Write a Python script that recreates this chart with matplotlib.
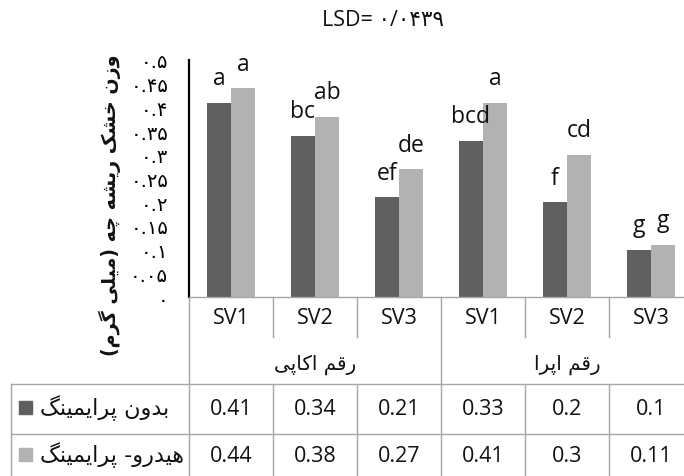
import matplotlib
matplotlib.use("Agg")
import matplotlib.pyplot as plt
import matplotlib.transforms as mtransforms
from matplotlib.patches import Rectangle

# ---------------- data ----------------
categories = ["SV1", "SV2", "SV3", "SV1", "SV2", "SV3"]
groups = ["رقم اکاپی", "رقم اپرا"]
series_names = ["بدون پرایمینگ", "هیدرو- پرایمینگ"]
no_priming = [0.41, 0.34, 0.21, 0.33, 0.2, 0.1]
hydro_priming = [0.44, 0.38, 0.27, 0.41, 0.3, 0.11]
letters_no = ["a", "bc", "ef", "bcd", "f", "g"]
letters_hydro = ["a", "ab", "de", "a", "cd", "g"]
yticks = [0, 0.05, 0.1, 0.15, 0.2, 0.25, 0.3, 0.35, 0.4, 0.45, 0.5]
ytick_labels = ["۰", "۰.۰۵", "۰.۱", "۰.۱۵", "۰.۲", "۰.۲۵", "۰.۳", "۰.۳۵", "۰.۴", "۰.۴۵", "۰.۵"]
ylabel = "وزن خشک ریشه چه (میلی گرم)"
title = "LSD= ۰/۰۴۳۹"

# ---------------- minimal Persian shaping ----------------
FORMS = {
    '\u0627': ('\uFE8D', '\uFE8E', None, None),
    '\u0628': ('\uFE8F', '\uFE90', '\uFE91', '\uFE92'),
    '\u067E': ('\uFB56', '\uFB57', '\uFB58', '\uFB59'),
    '\u062F': ('\uFEA9', '\uFEAA', None, None),
    '\u0631': ('\uFEAD', '\uFEAE', None, None),
    '\u0632': ('\uFEAF', '\uFEB0', None, None),
    '\u0634': ('\uFEB5', '\uFEB6', '\uFEB7', '\uFEB8'),
    '\u062E': ('\uFEA5', '\uFEA6', '\uFEA7', '\uFEA8'),
    '\u0642': ('\uFED5', '\uFED6', '\uFED7', '\uFED8'),
    '\u0644': ('\uFEDD', '\uFEDE', '\uFEDF', '\uFEE0'),
    '\u0645': ('\uFEE1', '\uFEE2', '\uFEE3', '\uFEE4'),
    '\u0646': ('\uFEE5', '\uFEE6', '\uFEE7', '\uFEE8'),
    '\u0647': ('\uFEE9', '\uFEEA', '\uFEEB', '\uFEEC'),
    '\u0648': ('\uFEED', '\uFEEE', None, None),
    '\u0686': ('\uFB7A', '\uFB7B', '\uFB7C', '\uFB7D'),
    '\u06A9': ('\uFB8E', '\uFB8F', '\uFB90', '\uFB91'),
    '\u06AF': ('\uFB92', '\uFB93', '\uFB94', '\uFB95'),
    '\u06CC': ('\uFBFC', '\uFBFD', '\uFBFE', '\uFBFF'),
}


def shape(text):
    out = []
    n = len(text)
    for i, c in enumerate(text):
        if c not in FORMS:
            out.append(c)
            continue
        prev = text[i - 1] if i > 0 else None
        nxt = text[i + 1] if i < n - 1 else None
        pj = prev in FORMS and FORMS[prev][2] is not None
        nj = nxt in FORMS and FORMS[c][2] is not None
        iso, fin, ini, med = FORMS[c]
        if pj and nj:
            out.append(med)
        elif pj:
            out.append(fin)
        elif nj:
            out.append(ini)
        else:
            out.append(iso)
    vis = "".join(reversed(out))
    vis = vis.replace("(", "\0").replace(")", "(").replace("\0", ")")
    return vis


# ---------------- figure ----------------
W, H = 684, 477
fig = plt.figure(figsize=(W / 100, H / 100), dpi=100)
fig.patch.set_facecolor("white")

LAT = ["Open Sans", "DejaVu Sans"]
FA = ["DejaVu Sans"]

x0, xtop, ybase = 189, 61, 298
colw = 84
ax = fig.add_axes([x0 / W, 1 - ybase / H, 6 * colw / W, (ybase - xtop) / H])
ax.set_xlim(-0.5, 5.5)
ax.set_ylim(0, 0.5)

dark = "#606060"
light = "#B2B2B2"
bw = 0.29
xs = list(range(len(categories)))
ax.bar([x - bw / 2 for x in xs], no_priming, width=bw, color=dark, zorder=2)
ax.bar([x + bw / 2 for x in xs], hydro_priming, width=bw, color=light, zorder=2)

for x, v, l in zip(xs, no_priming, letters_no):
    ax.annotate(l, (x - bw / 2, v), xytext=(0, 13.3), textcoords="offset points",
                ha="center", va="baseline", fontsize=16.5, family=LAT, color="#111111")
for x, v, l in zip(xs, hydro_priming, letters_hydro):
    ax.annotate(l, (x + bw / 2, v), xytext=(0, 13.3), textcoords="offset points",
                ha="center", va="baseline", fontsize=16.5, family=LAT, color="#111111")

ax.set_xticks([])
ax.set_yticks(yticks)
ax.set_yticklabels(ytick_labels, family=FA, fontsize=14)
ax.tick_params(axis="y", length=0, pad=15)
for s in ["top", "right"]:
    ax.spines[s].set_visible(False)
ax.spines["left"].set_color("black")
ax.spines["left"].set_linewidth(1.6)
ax.spines["bottom"].set_color("#A6A6A6")
ax.spines["bottom"].set_linewidth(1.0)

# ---------------- data table ----------------
trans = mtransforms.blended_transform_factory(ax.transData, fig.transFigure)
gc = "#A6A6A6"


def fy(p):
    return 1 - p / H


def dx(p):
    return -0.5 + (p - x0) / colw


def vline(xd, y1, y2):
    ax.plot([xd, xd], [fy(y1), fy(y2)], color=gc, lw=1.0, transform=trans, clip_on=False)


def hline(xd1, xd2, yp):
    ax.plot([xd1, xd2], [fy(yp), fy(yp)], color=gc, lw=1.0, transform=trans, clip_on=False)


y_sv_bot = 338
y_r1, y_r2, y_end = 385, 435, 490
left = dx(10.7)
hline(left, 5.5, y_r1)
hline(left, 5.5, y_r2)
vline(left, y_r1, y_end)
vline(-0.5, ybase, y_end)
vline(2.5, ybase, y_end)
for b in [0.5, 1.5, 3.5, 4.5]:
    vline(b, ybase, y_sv_bot)
    vline(b, y_r1, y_end)

for x, c in zip(xs, categories):
    ax.text(x, fy(319), c, transform=trans, ha="center", va="center",
            fontsize=15.5, family=LAT, color="#111111")
for gi, g in enumerate(groups):
    ax.text(gi * 3 + 1, fy(365), shape(g), transform=trans, ha="center", va="center",
            fontsize=14.3, family=FA, color="#111111")

rows = [no_priming, hydro_priming]
row_y = [410, 457]
cols = [dark, light]
for ri, (vals, yy) in enumerate(zip(rows, row_y)):
    for x, v in zip(xs, vals):
        ax.text(x, fy(yy), str(v), transform=trans, ha="center", va="center",
                fontsize=15.5, family=LAT, color="#111111")
    ax.text(dx(40), fy(yy - 2), shape(series_names[ri]), transform=trans, ha="left",
            va="center", fontsize=16, family=FA, color="#111111")
    fig.add_artist(Rectangle((19 / W, fy(yy - 2 + 6.5)), 13 / W, 13 / H,
                             transform=fig.transFigure, color=cols[ri]))

# ---------------- labels ----------------
fig.text(110 / W, fy(205), shape(ylabel), rotation=90, ha="center", va="center",
         fontsize=13.8, fontweight="bold", family=FA, color="#111111")
fig.text(383 / W, fy(21), title, ha="center", va="center", fontsize=15.5,
         family=LAT, color="#111111")

fig.savefig("out.png", dpi=100, facecolor="white")
